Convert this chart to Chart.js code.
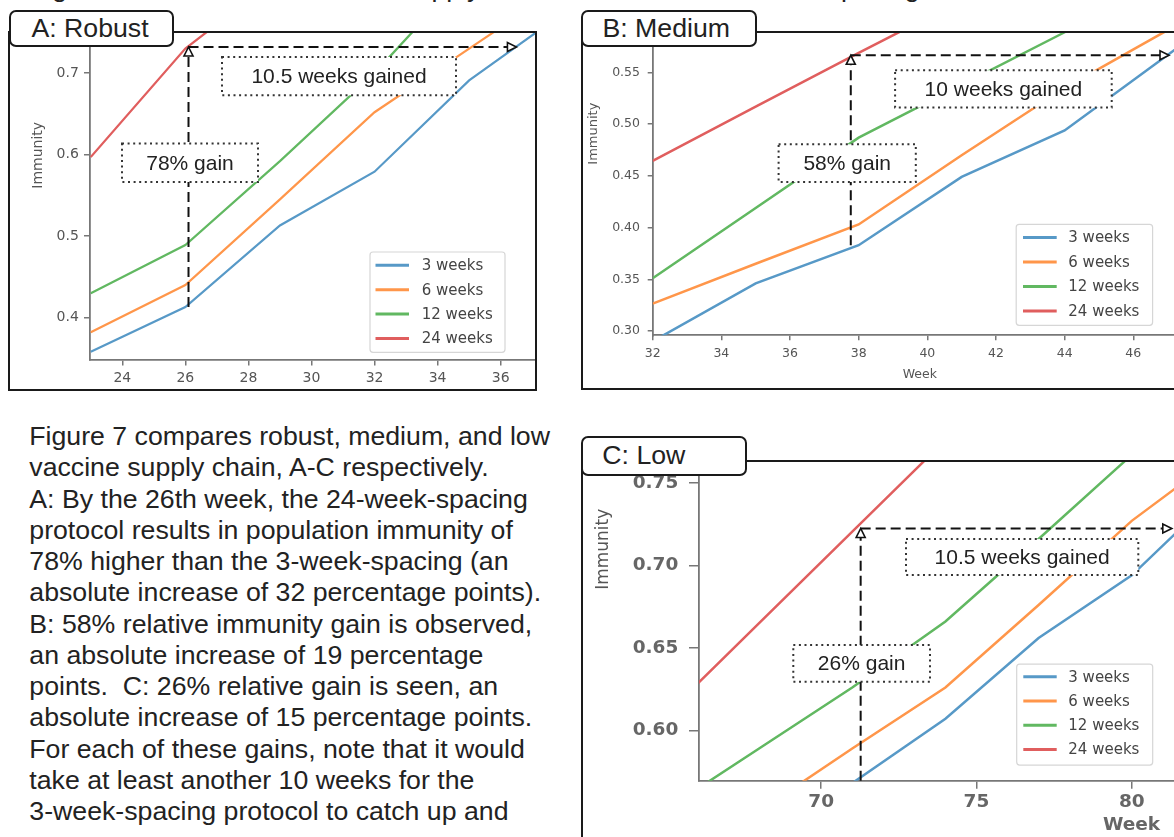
<!DOCTYPE html>
<html>
<head>
<meta charset="utf-8">
<script src="https://cdn.jsdelivr.net/npm/chart.js@4.4.0/dist/chart.umd.min.js"></script>
<style>
  body { margin: 0; width: 1174px; height: 837px; overflow: hidden; background: #fff; position: relative;
         font-family: "Liberation Sans", Arial, sans-serif; color: #222; }
  .frame { position: absolute; box-sizing: border-box; border: 2px solid #1a1a1a; overflow: hidden; background: #fff; }
  .frame canvas { position: absolute; filter: blur(0.45px); }
  .tag { position: absolute; box-sizing: border-box; border: 2px solid #1a1a1a; border-radius: 7px; background: #fff;
         font-size: 26.7px; display: flex; align-items: center; z-index: 5; white-space: nowrap; }
  .caption { position: absolute; left: 29.3px; top: 421px; font-size: 26.7px; line-height: 31.25px; white-space: nowrap; }
  .topline { position: absolute; left: 30px; top: -27.5px; font-size: 26.7px; line-height: 31.25px; white-space: nowrap; }
</style>
</head>
<body>
<div class="topline">Figure 7: Effects of the vaccine supply chains and the second dose spacing</div>

<div class="frame" style="left:8px;top:31px;width:529px;height:360px"><canvas id="chartA"></canvas></div>
<div class="frame" style="left:580.7px;top:31.3px;width:700px;height:359.2px"><canvas id="chartB"></canvas></div>
<div class="frame" style="left:581.3px;top:460px;width:700px;height:500px"><canvas id="chartC"></canvas></div>

<div class="tag" style="left:9.4px;top:9.7px;width:164.4px;height:37px;padding-left:20px">A: Robust</div>
<div class="tag" style="left:580.7px;top:9.7px;width:176.8px;height:37px;padding-left:19.8px">B: Medium</div>
<div class="tag" style="left:581.3px;top:435.7px;width:165.4px;height:40.3px;padding-left:19px">C: Low</div>

<div class="caption">
Figure 7 compares robust, medium, and low<br>
vaccine supply chain, A-C respectively.<br>
A: By the 26th week, the 24-week-spacing<br>
protocol results in population immunity of<br>
78% higher than the 3-week-spacing (an<br>
absolute increase of 32 percentage points).<br>
B: 58% relative immunity gain is observed,<br>
an absolute increase of 19 percentage<br>
points.&nbsp; C: 26% relative gain is seen, an<br>
absolute increase of 15 percentage points.<br>
For each of these gains, note that it would<br>
take at least another 10 weeks for the<br>
3-week-spacing protocol to catch up and
</div>

<script>
// dose spacing protocols
const SERIES = ['3 weeks', '6 weeks', '12 weeks', '24 weeks'];
const COLORS = ['#5799c7', '#ff964a', '#61b861', '#e05e5e'];

// A: robust supply chain
const weeksA = [23, 26, 29, 32, 35, 38];
const robust3 = [0.358, 0.413, 0.513, 0.579, 0.691, 0.774];
const robust6 = [0.382, 0.440, 0.545, 0.652, 0.730, 0.808];
const robust12 = [0.430, 0.489, 0.592, 0.700, 0.826, null];
const robust24 = [0.597, 0.730, 0.820, null, null, null];
const xTicksA = [24, 26, 28, 30, 32, 34, 36];
const yTicksA = [0.4, 0.5, 0.6, 0.7, 0.8];

// B: medium supply chain
const weeksB = [32, 35, 38, 41, 44, 47, 50];
const medium3 = [0.290, 0.346, 0.383, 0.449, 0.494, 0.567, 0.640];
const medium6 = [0.3265, 0.365, 0.403, 0.470, 0.535, 0.591, 0.645];
const medium12 = [0.351, 0.419, 0.487, 0.538, 0.589, 0.640, null];
const medium24 = [0.4645, 0.517, 0.569, 0.620, null, null, null];
const xTicksB = [32, 34, 36, 38, 40, 42, 44, 46];
const yTicksB = [0.30, 0.35, 0.40, 0.45, 0.50, 0.55, 0.60, 0.65];

// C: low supply chain
const weeksC = [65, 68, 71, 74, 77, 80, 83];
const low3 = [0.491, 0.530, 0.568, 0.607, 0.656, 0.694, 0.748];
const low6 = [0.514, 0.551, 0.589, 0.626, 0.676, 0.727, 0.769];
const low12 = [0.552, 0.589, 0.626, 0.666, 0.716, 0.767, null];
const low24 = [0.6095, 0.665, 0.7205, 0.776, null, null, null];
const xTicksC = [70, 75, 80, 85, 90];
const yTicksC = [0.60, 0.65, 0.70, 0.75, 0.80, 0.85];

// gain arrows: week of the vertical arrow, 3-week value, 24-week value, week the 3-week line catches up
const gainA = { week: 26.1, low: 0.413, high: 0.732, reach: 36.5 };
const gainB = { week: 37.77, low: 0.383, high: 0.5667, reach: 47.04 };
const gainC = { week: 71.27, low: 0.5694, high: 0.7224, reach: 81.29 };

const labelsA = ['10.5 weeks gained', '78% gain'];
const labelsB = ['10 weeks gained', '58% gain'];
const labelsC = ['10.5 weeks gained', '26% gain'];

function arrowHead(ctx, x, y, dx, dy) {
  const len = 9, half = 4.5;
  const bx = x - dx * len, by = y - dy * len;
  ctx.beginPath();
  ctx.moveTo(x, y);
  ctx.lineTo(bx - dy * half, by + dx * half);
  ctx.lineTo(bx + dy * half, by - dx * half);
  ctx.closePath();
  ctx.fillStyle = '#fff';
  ctx.fill();
  ctx.lineWidth = 1.6;
  ctx.strokeStyle = '#111';
  ctx.stroke();
}

// arrows, dotted text boxes and legend, drawn on top of the lines
const overlay = {
  id: 'overlay',
  afterDatasetsDraw(chart, args, opts) {
    const ctx = chart.ctx;
    const xs = chart.scales.x, ys = chart.scales.y;
    const [ox, oy] = opts.origin;
    const g = opts.gain;
    const x0 = xs.getPixelForValue(g.week);
    const x1 = xs.getPixelForValue(g.reach);
    const yLo = ys.getPixelForValue(g.low);
    const yHi = ys.getPixelForValue(g.high);
    ctx.save();
    ctx.strokeStyle = '#111';
    ctx.lineWidth = 2;
    ctx.setLineDash([10, 5]);
    ctx.beginPath();
    ctx.moveTo(x0, yLo);
    ctx.lineTo(x0, yHi + 9);
    ctx.moveTo(x0, yHi);
    ctx.lineTo(x1 - 9, yHi);
    ctx.stroke();
    ctx.setLineDash([]);
    arrowHead(ctx, x0, yHi, 0, -1);
    arrowHead(ctx, x1, yHi, 1, 0);

    // dotted annotation boxes
    opts.boxes.forEach(b => {
      const l = b.l - ox, t = b.t - oy, w = b.r - b.l, h = b.b - b.t;
      ctx.fillStyle = '#fff';
      ctx.fillRect(l, t, w, h);
      ctx.setLineDash([2, 3.6]);
      ctx.lineWidth = 2;
      ctx.strokeStyle = '#333';
      ctx.strokeRect(l, t, w, h);
      ctx.setLineDash([]);
      ctx.fillStyle = '#222';
      ctx.font = '21px "Liberation Sans", Arial, sans-serif';
      ctx.textAlign = 'center';
      ctx.textBaseline = 'middle';
      ctx.fillText(b.text, l + w / 2, t + h / 2 + 1);
    });

    // legend
    const L = opts.legend;
    ctx.beginPath();
    ctx.roundRect(L.l - ox, L.t - oy, L.r - L.l, L.b - L.t, 3);
    ctx.fillStyle = 'rgba(255,255,255,0.92)';
    ctx.fill();
    ctx.lineWidth = 1.2;
    ctx.strokeStyle = '#d6d6d6';
    ctx.stroke();
    SERIES.forEach((name, i) => {
      const y = L.row0 + i * L.step - oy;
      ctx.beginPath();
      ctx.moveTo(L.x0 - ox, y);
      ctx.lineTo(L.x1 - ox, y);
      ctx.strokeStyle = COLORS[i];
      ctx.lineWidth = 3;
      ctx.stroke();
      ctx.fillStyle = '#444';
      ctx.font = '15px "DejaVu Sans", sans-serif';
      ctx.textAlign = 'left';
      ctx.textBaseline = 'middle';
      ctx.fillText(name, L.tx - ox, y + 1);
    });
    ctx.restore();
  }
};

function build(p) {
  const canvas = document.getElementById(p.id);
  const [ox, oy] = p.origin;
  canvas.width = p.size[0];
  canvas.height = p.size[1];
  canvas.style.left = (ox - p.frame[0] - 2) + 'px';
  canvas.style.top = (oy - p.frame[1] - 2) + 'px';
  const yAxisW = p.plot.left - ox;
  const padTop = p.plot.top - oy;
  const xAxisH = oy + p.size[1] - p.plot.bottom;
  const padRight = ox + p.size[0] - p.plot.right;
  const axisGrey = '#777';

  new Chart(canvas, {
    type: 'line',
    data: {
      datasets: SERIES.map((name, i) => ({
        label: name,
        data: p.weeks.map((w, k) => ({ x: w, y: p.values[i][k] })),
        borderColor: COLORS[i],
        borderWidth: p.lineW,
        pointRadius: 0,
        tension: 0,
        spanGaps: false
      }))
    },
    options: {
      responsive: false,
      animation: false,
      events: [],
      layout: { padding: { left: 0, top: padTop, right: padRight, bottom: 0 } },
      plugins: {
        legend: { display: false },
        tooltip: { enabled: false },
        overlay: { origin: p.origin, gain: p.gain, boxes: p.boxes, legend: p.legend }
      },
      scales: {
        x: {
          type: 'linear',
          min: p.xRange[0],
          max: p.xRange[1],
          afterFit: s => { s.height = xAxisH; },
          afterBuildTicks: s => { s.ticks = p.xTicks.map(v => ({ value: v })); },
          ticks: { autoSkip: false, maxRotation: 0, padding: p.xPad, color: p.tickColor,
                   font: { family: 'DejaVu Sans', size: p.tickSize, weight: p.tickWeight },
                   callback: v => String(v) },
          grid: { drawOnChartArea: false, drawTicks: true, tickLength: p.xTickLen, color: axisGrey, lineWidth: 1.5 },
          border: { display: true, color: axisGrey, width: 1.8 },
          title: { display: !!p.xTitle, text: 'Week', color: p.tickColor,
                   font: { family: 'DejaVu Sans', size: p.xTitleSize, weight: p.tickWeight },
                   padding: { top: 0, bottom: p.xTitlePad } }
        },
        y: {
          type: 'linear',
          min: p.yRange[0],
          max: p.yRange[1],
          afterFit: s => { s.width = yAxisW; },
          afterBuildTicks: s => { s.ticks = p.yTicks.map(v => ({ value: v })); },
          ticks: { autoSkip: false, padding: p.yPad, color: p.tickColor,
                   font: { family: 'DejaVu Sans', size: p.tickSize, weight: p.tickWeight },
                   callback: v => v.toFixed(p.decimals) },
          grid: { drawOnChartArea: false, drawTicks: true, tickLength: p.yTickLen, color: axisGrey, lineWidth: 1.5 },
          border: { display: true, color: axisGrey, width: 1.8 },
          title: { display: true, text: 'Immunity', color: '#555',
                   font: { family: 'DejaVu Sans', size: p.yTitleSize },
                   padding: { top: p.yTitlePad, bottom: 0 } }
        }
      }
    },
    plugins: [overlay]
  });
}

build({
  id: 'chartA', frame: [8, 31], origin: [0, -69.3], size: [545, 469],
  plot: { left: 90, right: 545, top: -49.3, bottom: 359.3 },
  weeks: weeksA, values: [robust3, robust6, robust12, robust24],
  xRange: [22.976, 37.406], yRange: [0.3485, 0.8498],
  xTicks: xTicksA, yTicks: yTicksA, decimals: 1,
  tickSize: 14, tickWeight: 'normal', tickColor: '#555', xPad: 4.6, yPad: 5.2, xTickLen: 6, yTickLen: 6,
  xTitle: false, yTitleSize: 14, yTitlePad: 30.4, lineW: 2.2,
  gain: gainA,
  boxes: [
    { text: labelsA[0], l: 222, t: 56.7, r: 456, b: 95 },
    { text: labelsA[1], l: 122, t: 143.3, r: 258, b: 181.7 }
  ],
  legend: { l: 370, t: 251.7, r: 505, b: 352, row0: 265, step: 24.4, x0: 375.5, x1: 409, tx: 421.7 }
});

build({
  id: 'chartB', frame: [580.7, 31.3], origin: [575, -88.3], size: [612, 488],
  plot: { left: 652.7, right: 1187, top: -68.3, bottom: 335 },
  weeks: weeksB, values: [medium3, medium6, medium12, medium24],
  xRange: [32, 47.564], yRange: [0.2958, 0.686],
  xTicks: xTicksB, yTicks: yTicksB, decimals: 2,
  tickSize: 12.5, tickWeight: 'normal', tickColor: '#555', xPad: 5.8, yPad: 7.7, xTickLen: 5, yTickLen: 5,
  xTitle: true, xTitleSize: 12.5, xTitlePad: 18.2, yTitleSize: 13, yTitlePad: 10.5, lineW: 2.5,
  gain: gainB,
  boxes: [
    { text: labelsB[0], l: 895.1, t: 70, r: 1111.7, b: 107.3 },
    { text: labelsB[1], l: 778.6, t: 144, r: 915.8, b: 181.7 }
  ],
  legend: { l: 1016.2, t: 224, r: 1152.6, b: 325, row0: 237.3, step: 24.45, x0: 1023, x1: 1056.7, tx: 1068.3 }
});

build({
  id: 'chartC', frame: [581.3, 460], origin: [575, 295.9], size: [989, 564],
  plot: { left: 699, right: 1564, top: 315.9, bottom: 780.7 },
  weeks: weeksC, values: [low3, low6, low12, low24],
  xRange: [66.064, 93.92], yRange: [0.5694, 0.8501],
  xTicks: xTicksC, yTicks: yTicksC, decimals: 2,
  tickSize: 18.5, tickWeight: 'bold', tickColor: '#666', xPad: 2, yPad: 10.7, xTickLen: 8, yTickLen: 10,
  xTitle: true, xTitleSize: 18.5, xTitlePad: 23.5, yTitleSize: 17, yTitlePad: 18.1, lineW: 2.5,
  gain: gainC,
  boxes: [
    { text: labelsC[0], l: 906, t: 539, r: 1138.3, b: 575 },
    { text: labelsC[1], l: 793.3, t: 645, r: 930, b: 681.7 }
  ],
  legend: { l: 1016.7, t: 664, r: 1152.7, b: 765, row0: 676.7, step: 24.2, x0: 1023.3, x1: 1056.7, tx: 1068.3 }
});
</script>
</body>
</html>
